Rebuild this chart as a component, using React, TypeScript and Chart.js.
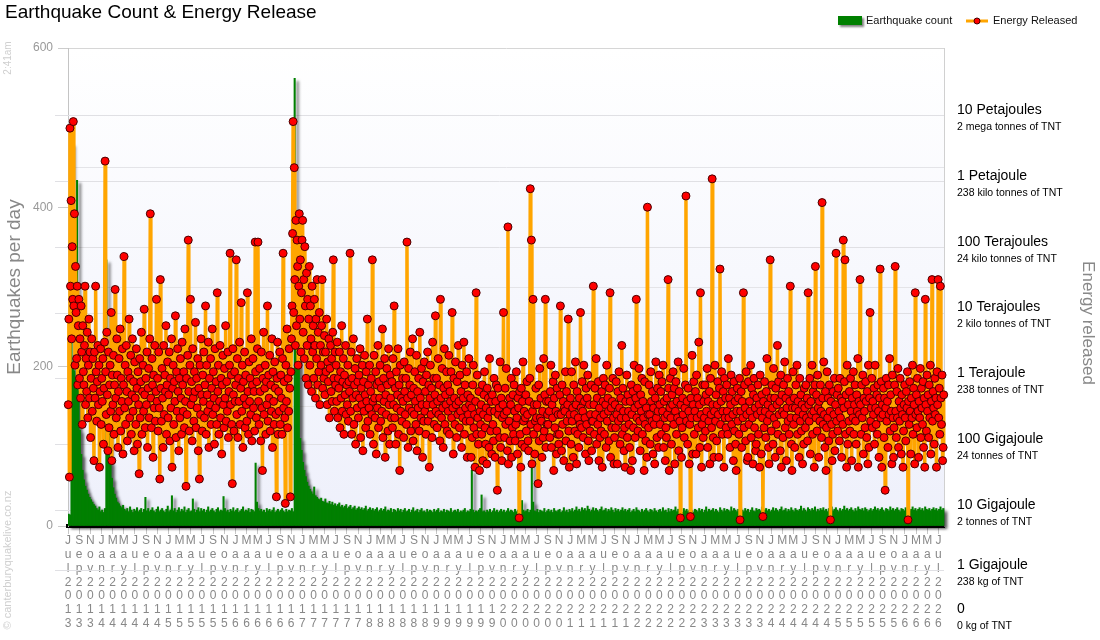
import React, { useEffect, useRef } from 'react';
import { Chart, registerables } from 'chart.js';

Chart.register(...registerables);

const FONT = '"Liberation Sans", Arial, sans-serif';

const chartTitle = 'Earthquake Count & Energy Release';
const countLabel = 'Earthquake count';
const energyLabel = 'Energy Released';
const leftAxisTitle = 'Earthquakes per day';
const rightAxisTitle = 'Energy released';
const timeStamp = '2:41am';
const credit = '© canterburyquakelive.co.nz';

// x tick labels, one every two months
const xTickLabels = [
  'Jul 2013', 'Sep 2013', 'Nov 2013',
  'Jan 2014', 'Mar 2014', 'May 2014', 'Jul 2014', 'Sep 2014', 'Nov 2014',
  'Jan 2015', 'Mar 2015', 'May 2015', 'Jul 2015', 'Sep 2015', 'Nov 2015',
  'Jan 2016', 'Mar 2016', 'May 2016', 'Jul 2016', 'Sep 2016', 'Nov 2016',
  'Jan 2017', 'Mar 2017', 'May 2017', 'Jul 2017', 'Sep 2017', 'Nov 2017',
  'Jan 2018', 'Mar 2018', 'May 2018', 'Jul 2018', 'Sep 2018', 'Nov 2018',
  'Jan 2019', 'Mar 2019', 'May 2019', 'Jul 2019', 'Sep 2019', 'Nov 2019',
  'Jan 2020', 'Mar 2020', 'May 2020', 'Jul 2020', 'Sep 2020', 'Nov 2020',
  'Jan 2021', 'Mar 2021', 'May 2021', 'Jul 2021', 'Sep 2021', 'Nov 2021',
  'Jan 2022', 'Mar 2022', 'May 2022', 'Jul 2022', 'Sep 2022', 'Nov 2022',
  'Jan 2023', 'Mar 2023', 'May 2023', 'Jul 2023', 'Sep 2023', 'Nov 2023',
  'Jan 2024', 'Mar 2024', 'May 2024', 'Jul 2024', 'Sep 2024', 'Nov 2024',
  'Jan 2025', 'Mar 2025', 'May 2025', 'Jul 2025', 'Sep 2025', 'Nov 2025',
  'Jan 2026', 'Mar 2026', 'May 2026', 'Jul 2026',
];

// left axis
const leftGridValues = [0, 150, 200, 300, 400, 450, 600];
const leftTickLabels = [0, 200, 400, 600];

// right (energy) axis labels: level index on a log scale
const energyTickPos = [7, 6, 5, 4, 3, 2, 1, 0.09, -0.58];
const energyTickNames = [
  '10 Petajoules', '1 Petajoule', '100 Terajoules', '10 Terajoules', '1 Terajoule',
  '100 Gigajoule', '10 Gigajoule', '1 Gigajoule', '0',
];
const energyTickTnt = [
  '2 mega tonnes of TNT', '238 kilo tonnes of TNT', '24 kilo tonnes of TNT', '2 kilo tonnes of TNT',
  '238 tonnes of TNT', '24 tonnes of TNT', '2 tonnes of TNT', '238 kg of TNT', '0 kg of TNT',
];

// earthquake count, one value per quarter month from Jul 2013
const weeklyQuakeCounts = [
  15, 14, 480, 200, 195, 185, 434, 170, 120, 90, 70, 58, 50, 45, 40, 36, 33, 30, 27, 25,
  22, 20, 24, 18, 20, 17, 22, 334, 140, 120, 80, 60, 48, 40, 35, 30, 28, 25, 23, 26,
  21, 19, 22, 18, 24, 20, 17, 21, 19, 23, 18, 20, 22, 17, 21, 36, 19, 22, 18, 20,
  23, 19, 17, 21, 24, 18, 20, 22, 19, 17, 21, 25, 18, 20, 38, 19, 22, 17, 20, 23,
  18, 21, 19, 24, 17, 20, 22, 18, 19, 34, 21, 17, 20, 23, 18, 22, 19, 21, 17, 20,
  24, 18, 20, 22, 19, 17, 21, 23, 18, 20, 19, 37, 22, 18, 20, 17, 21, 19, 23, 18,
  20, 22, 17, 19, 21, 24, 18, 20, 19, 22, 17, 21, 20, 18, 79, 30, 22, 19, 21, 18,
  20, 17, 22, 19, 21, 18, 20, 23, 17, 19, 21, 18, 20, 22, 19, 17, 21, 18, 20, 19,
  22, 18, 562, 290, 270, 250, 110, 95, 80, 70, 62, 55, 50, 46, 43, 40, 49, 38, 36, 34,
  33, 35, 31, 30, 34, 29, 28, 31, 27, 30, 26, 28, 25, 27, 29, 24, 26, 23, 25, 27,
  22, 24, 26, 21, 23, 25, 20, 22, 24, 21, 23, 20, 22, 25, 19, 21, 23, 20, 22, 19,
  21, 23, 18, 20, 22, 19, 21, 24, 18, 20, 19, 22, 17, 21, 20, 18, 22, 19, 21, 17,
  20, 22, 18, 19, 21, 17, 20, 23, 18, 19, 21, 17, 20, 22, 18, 19, 17, 21, 18, 20,
  19, 17, 21, 18, 20, 22, 17, 19, 18, 21, 17, 20, 19, 18, 22, 17, 19, 20, 18, 21,
  17, 19, 18, 20, 22, 17, 19, 18, 21, 70, 20, 17, 19, 18, 20, 22, 39, 18, 19, 17,
  20, 18, 21, 17, 19, 22, 18, 20, 17, 19, 21, 18, 20, 17, 19, 22, 18, 20, 19, 17,
  21, 18, 20, 19, 17, 32, 20, 18, 19, 21, 17, 20, 115, 30, 19, 18, 21, 17, 20, 19,
  18, 22, 17, 19, 21, 18, 20, 17, 22, 19, 18, 20, 21, 17, 19, 23, 18, 20, 17, 21,
  19, 22, 18, 20, 24, 19, 21, 18, 23, 20, 22, 19, 25, 21, 18, 20, 23, 19, 22, 20,
  18, 21, 24, 19, 20, 22, 18, 21, 19, 23, 20, 17, 22, 19, 21, 18, 20, 23, 19, 21,
  18, 20, 22, 17, 19, 21, 18, 23, 20, 19, 17, 21, 18, 20, 22, 19, 17, 21, 20, 18,
  22, 19, 17, 20, 21, 18, 23, 19, 20, 17, 22, 18, 21, 19, 20, 24, 18, 21, 19, 20,
  17, 22, 19, 21, 18, 20, 23, 19, 17, 21, 20, 18, 22, 19, 21, 17, 20, 24, 18, 21,
  19, 20, 22, 18, 21, 19, 17, 23, 20, 18, 22, 19, 21, 20, 18, 24, 19, 22, 20, 18,
  21, 19, 23, 20, 18, 22, 19, 21, 17, 20, 23, 19, 18, 22, 20, 21, 19, 24, 18, 20,
  22, 19, 21, 18, 20, 23, 19, 22, 20, 18, 21, 24, 19, 20, 22, 18, 21, 19, 23, 20,
  18, 22, 20, 19, 21, 25, 19, 22, 20, 18, 23, 21, 19, 22, 20, 24, 18, 21, 19, 22,
  20, 23, 19, 21, 18, 22, 20, 24, 19, 21, 23, 20, 18, 22, 19, 21, 25, 20, 22, 19,
  21, 23, 20, 18, 22, 19, 24, 21, 20, 22, 19, 23, 21, 18, 20, 22, 19, 21, 24, 20,
  22, 19, 21, 23, 20, 18, 22, 21, 19, 24, 20, 22, 19, 21, 23, 20, 18, 22, 21, 19,
  23, 20, 22, 19, 21, 24, 20, 22, 19, 21, 23, 20, 22, 19, 24, 21, 20, 22, 19, 21,
  23, 20, 22, 19, 21, 24, 20, 22,
];

// energy released: level index x100 on the right axis, ten readings per month from Jul 2013
const energyLevelHundredths = [
  260, 390, 150, 680, 440, 570, 360, 500, 420, 690, 410, 550, 320, 470, 400, 330, 440, 290, 380, 420,
  300, 360, 270, 410, 340, 230, 380, 310, 290, 350, 440, 260, 330, 280, 370, 240, 320, 390, 270, 340,
  210, 300, 360, 250, 330, 285, 175, 340, 270, 440, 310, 235, 295, 350, 260, 320, 165, 280, 345, 230,
  300, 265, 330, 200, 285, 355, 630, 310, 245, 370, 275, 190, 340, 225, 290, 320, 250, 400, 175, 305,
  260, 335, 215, 290, 435, 270, 240, 360, 305, 195, 280, 330, 250, 375, 220, 300, 265, 345, 185, 290,
  485, 255, 320, 230, 350, 280, 205, 310, 265, 390, 240, 300, 335, 215, 275, 360, 250, 295, 190, 325,
  270, 230, 345, 285, 200, 310, 260, 155, 330, 240, 295, 370, 215, 280, 320, 250, 405, 275, 225, 300,
  260, 340, 195, 285, 315, 240, 360, 550, 270, 225, 330, 290, 180, 305, 255, 350, 235, 280, 420, 265,
  300, 220, 340, 255, 147, 450, 285, 235, 315, 270, 195, 350, 245, 305, 280, 380, 215, 290, 325, 240,
  275, 340, 205, 300, 255, 360, 165, 285, 320, 230, 295, 265, 395, 210, 310, 250, 345, 280, 190, 300,
  240, 330, 270, 215, 355, 290, 250, 310, 225, 375, 265, 136, 300, 245, 335, 510, 280, 220, 320, 420,
  260, 295, 205, 345, 270, 235, 310, 280, 385, 225, 300, 255, 330, 190, 285, 147, 320, 245, 360, 275,
  220, 305, 265, 340, 240, 290, 410, 215, 320, 275, 250, 355, 195, 300, 260, 330, 230, 285, 375, 245,
  310, 270, 200, 345, 255, 295, 230, 430, 280, 320, 215, 265, 350, 240, 300, 185, 290, 335, 260, 225,
  315, 270, 380, 235, 295, 250, 340, 210, 280, 320, 490, 260, 305, 230, 140, 345, 275, 220, 310, 265,
  290, 480, 245, 330, 210, 300, 265, 355, 230, 285, 415, 250, 320, 195, 295, 270, 340, 225, 305, 260,
  235, 430, 280, 215, 325, 265, 300, 245, 360, 205, 290, 330, 255, 280, 220, 507, 310, 240, 295, 345,
  507, 265, 230, 315, 280, 205, 340, 255, 160, 300, 370, 245, 285, 320, 215, 295, 260, 410, 235, 305,
  270, 335, 220, 290, 250, 360, 195, 310, 265, 230, 325, 285, 245, 120, 300, 355, 215, 280, 250, 340,
  230, 305, 270, 215, 330, 490, 255, 295, 240, 110, 320, 265, 375, 225, 300, 250, 345, 285, 120, 310,
  360, 410, 520, 690, 400, 620, 450, 350, 540, 380, 510, 470, 320, 440, 550, 390, 480, 340, 430, 510,
  540, 370, 450, 330, 500, 410, 300, 460, 350, 420, 290, 390, 470, 320, 410, 360, 280, 440, 340, 380,
  300, 420, 350, 270, 390, 330, 450, 290, 370, 310, 400, 260, 350, 320, 380, 450, 285, 340, 300, 365,
  275, 340, 310, 390, 260, 325, 295, 360, 240, 315, 350, 280, 330, 265, 370, 480, 300, 250, 340, 290,
  320, 265, 355, 240, 300, 285, 340, 225, 310, 270, 380, 250, 295, 330, 215, 305, 275, 350, 245, 290,
  260, 320, 235, 295, 280, 490, 250, 340, 215, 300, 270, 360, 230, 290, 315, 200, 275, 330, 255, 295,
  240, 305, 270, 345, 210, 285, 260, 320, 190, 295, 250, 335, 275, 225, 310, 265, 390, 235, 290, 255,
  320, 215, 280, 300, 245, 480, 265, 200, 335, 270, 240, 310, 185, 290, 255, 350, 225, 295, 270, 320,
  235, 285, 250, 375, 210, 300, 265, 330, 180, 275, 245, 315, 290, 220, 345, 260, 200, 305, 270, 240,
  295, 225, 330, 260, 410, 240, 285, 200, 310, 255, 275, 345, 215, 290, 160, 320, 250, 270, 235, 300,
  265, 210, 325, 280, 245, 300, 230, 507, 270, 195, 315, 255, 290, 340, 220, 275, 250, 360, 205, 285,
  245, 310, 265, 230, 335, 190, 280, 255, 300, 220, 370, 270, 240, 315, 260, 180, 295, 235, 325, 250,
  280, 215, 305, 260, 340, 235, 290, 165, 270, 320, 245, 285, 210, 355, 260, 300, 230, 275, 395, 250,
  300, 225, 265, 330, 245, 290, 205, 420, 270, 240, 315, 255, 195, 285, 345, 230, 275, 260, 310, 220,
  290, 250, 335, 215, 280, 265, 310, 240, 400, 255, 185, 300, 270, 230, 325, 260, 210, 295, 245, 350,
  265, 225, 305, 250, 280, 195, 320, 240, 270, 355, 215, 290, 255, 235, 310, 180, 275, 245, 330, 260,
  235, 270, 180, 255, 210, 290, 320, 225, 245, 165, 265, 430, 215, 305, 240, 200, 280, 160, 250, 230,
  260, 215, 290, 175, 245, 275, 310, 225, 200, 255, 170, 285, 240, 270, 195, 330, 250, 220, 265, 185,
  275, 230, 205, 300, 250, 180, 265, 290, 220, 130, 285, 245, 255, 210, 325, 195, 270, 175, 240, 260,
  400, 245, 210, 285, 230, 315, 250, 190, 530, 170, 235, 270, 205, 260, 300, 180, 225, 275, 215, 290,
  250, 205, 230, 310, 240, 185, 270, 255, 88, 280, 215, 165, 285, 200, 265, 325, 235, 250, 195, 240,
  275, 220, 295, 245, 205, 190, 265, 300, 588, 230, 510, 170, 250, 420, 215, 260, 185, 235, 285, 240,
  260, 225, 140, 290, 205, 315, 240, 270, 235, 180, 250, 210, 330, 220, 275, 420, 195, 265, 230, 245,
  230, 265, 250, 210, 280, 320, 195, 260, 240, 295, 160, 270, 225, 305, 250, 185, 285, 215, 245, 200,
  215, 275, 410, 245, 190, 290, 230, 265, 175, 255, 250, 310, 205, 280, 235, 260, 390, 220, 165, 245,
  270, 200, 310, 235, 255, 180, 290, 245, 220, 325, 260, 170, 280, 215, 240, 195, 270, 230, 400, 255,
  225, 295, 250, 210, 320, 265, 240, 185, 285, 230, 270, 305, 205, 175, 260, 220, 245, 290, 190, 235,
  235, 440, 260, 215, 285, 245, 330, 200, 270, 230, 295, 175, 255, 210, 240, 220, 280, 165, 265, 300,
  245, 215, 290, 260, 195, 320, 235, 270, 250, 205, 285, 430, 180, 255, 225, 265, 300, 240, 170, 210,
  260, 225, 295, 245, 170, 280, 235, 310, 255, 200, 270, 240, 350, 215, 285, 250, 190, 225, 165, 265,
  240, 305, 210, 275, 250, 230, 195, 265, 160, 290, 245, 175, 280, 225, 320, 255, 210, 270, 420, 240,
  285, 220, 260, 315, 235, 190, 275, 250, 300, 215, 265, 240, 160, 295, 230, 205, 255, 180, 560, 245,
  225, 290, 245, 200, 310, 265, 235, 280, 185, 255, 230, 170, 270, 325, 240, 210, 285, 250, 195, 305,
  260, 230, 280, 215, 295, 250, 320, 195, 265, 240, 175, 225, 210, 270, 245, 450, 285, 160, 255, 300,
  240, 200, 275, 260, 310, 230, 285, 170, 250, 295, 215, 265, 240, 325, 190, 280, 235, 88, 260, 180,
  225, 270, 245, 315, 210, 255, 290, 577, 235, 265, 200, 285, 250, 170, 230, 90, 270, 240, 335, 185,
  260, 295, 215, 250, 280, 185, 305, 240, 270, 225, 355, 260, 195, 430, 245, 165, 230, 290, 210, 265,
  240, 290, 220, 275, 250, 315, 195, 265, 235, 280, 170, 300, 245, 225, 603, 260, 210, 180, 250, 320,
  235, 275, 205, 260, 295, 245, 180, 285, 466, 230, 265, 310, 215, 250, 280, 165, 300, 240, 270, 225,
  290, 250, 215, 330, 240, 270, 195, 260, 305, 230, 280, 245, 175, 295, 220, 265, 200, 160, 250, 285,
  235, 270, 215, 300, 85, 250, 280, 195, 265, 240, 430, 225, 290, 255, 205, 310, 245, 175, 180, 295,
  230, 265, 250, 320, 210, 285, 240, 170, 275, 300, 225, 255, 190, 200, 270, 245, 290, 215, 260, 165,
  305, 250, 185, 275, 240, 90, 265, 225, 295, 250, 210, 280, 330, 235, 260, 195, 170, 245, 480, 270,
  220, 290, 255, 200, 315, 240, 270, 180, 285, 230, 260, 350, 215, 295, 245, 265, 190, 305, 165, 275,
  250, 210, 290, 245, 325, 225, 270, 175, 255, 300, 235, 280, 215, 265, 440, 240, 200, 160, 255, 310,
  230, 270, 195, 255, 290, 240, 320, 215, 265, 250, 180, 300, 235, 275, 220, 260, 170, 245, 200, 285,
  255, 225, 290, 240, 270, 205, 430, 260, 235, 300, 185, 265, 245, 320, 215, 280, 250, 165, 290, 470,
  240, 275, 220, 305, 255, 180, 265, 235, 290, 250, 210, 567, 270, 230, 325, 245, 195, 280, 160, 225,
  310, 240, 270, 205, 290, 250, 85, 265, 230, 175, 215, 280, 245, 300, 190, 260, 490, 235, 275, 220,
  285, 250, 205, 300, 240, 270, 180, 265, 230, 510, 255, 295, 480, 215, 275, 165, 320, 200, 260, 235,
  280, 220, 300, 250, 175, 270, 240, 310, 215, 260, 290, 235, 200, 275, 250, 330, 165, 265, 245, 450,
  260, 215, 290, 240, 305, 185, 270, 250, 225, 295, 265, 210, 280, 170, 320, 195, 270, 400, 235, 255,
  300, 225, 265, 245, 285, 200, 320, 255, 230, 275, 215, 290, 250, 180, 270, 466, 240, 295, 165, 260,
  245, 285, 210, 270, 130, 255, 300, 235, 265, 195, 290, 245, 330, 220, 275, 250, 170, 305, 240, 180,
  225, 290, 470, 250, 210, 280, 240, 315, 195, 265, 235, 300, 255, 185, 275, 245, 165, 220, 260, 290,
  240, 205, 280, 255, 310, 85, 265, 230, 295, 250, 185, 270, 240, 320, 215, 285, 260, 170, 430, 245,
  275, 225, 300, 250, 180, 265, 240, 315, 210, 285, 255, 230, 295, 195, 270, 165, 420, 260, 220, 305,
  250, 275, 210, 290, 240, 320, 185, 265, 450, 235, 280, 255, 200, 300, 245, 270, 165, 310, 260, 450,
  240, 285, 215, 440, 270, 230, 305, 175, 195, 275,
];

const barShadowPlugin = {
  id: 'barShadow',
  beforeDatasetDraw(chart: any, args: any) {
    if (args.index !== 0) return;
    const c = chart.ctx;
    c.save();
    c.shadowColor = 'rgba(0,0,0,0.6)';
    c.shadowBlur = 3;
    c.shadowOffsetX = 3;
    c.shadowOffsetY = 3;
  },
  afterDatasetDraw(chart: any, args: any) {
    if (args.index !== 0) return;
    chart.ctx.restore();
  },
};

const decorPlugin = {
  id: 'decor',
  beforeDraw(chart: any) {
    const { ctx, chartArea: a } = chart;
    ctx.save();
    const g = ctx.createLinearGradient(0, a.top, 0, a.bottom);
    g.addColorStop(0, '#ffffff');
    g.addColorStop(1, '#eef0fb');
    ctx.fillStyle = g;
    ctx.fillRect(a.left, a.top, a.right - a.left, a.bottom - a.top);
    ctx.restore();
  },
  beforeDatasetsDraw(chart: any) {
    const { ctx, chartArea: a, scales } = chart;
    const y1 = scales.y1;
    ctx.save();
    ctx.strokeStyle = '#e0e0e4';
    ctx.lineWidth = 1;
    energyTickPos.forEach((v, i) => {
      if (i === energyTickPos.length - 1) return;
      const py = Math.round(y1.getPixelForValue(v)) + 0.5;
      ctx.beginPath();
      ctx.moveTo(55, py);
      ctx.lineTo(a.right, py);
      ctx.stroke();
    });
    ctx.restore();
  },
  afterDraw(chart: any) {
    const { ctx, scales } = chart;
    const y1 = scales.y1;
    ctx.save();
    ctx.textBaseline = 'middle';
    ctx.textAlign = 'left';
    // title
    ctx.fillStyle = '#000';
    ctx.font = `19px ${FONT}`;
    ctx.fillText(chartTitle, 5, 13);
    // legend
    ctx.save();
    ctx.shadowColor = 'rgba(0,0,0,0.5)';
    ctx.shadowBlur = 2;
    ctx.shadowOffsetX = 2;
    ctx.shadowOffsetY = 2;
    ctx.fillStyle = '#008000';
    ctx.fillRect(838, 16, 24, 9);
    ctx.restore();
    ctx.font = `11px ${FONT}`;
    ctx.fillStyle = '#111';
    ctx.fillText(countLabel, 866, 21);
    ctx.strokeStyle = '#ffa500';
    ctx.lineWidth = 3;
    ctx.beginPath();
    ctx.moveTo(966, 21);
    ctx.lineTo(988, 21);
    ctx.stroke();
    ctx.beginPath();
    ctx.arc(977, 21, 3, 0, Math.PI * 2);
    ctx.fillStyle = '#ff0000';
    ctx.fill();
    ctx.lineWidth = 1;
    ctx.strokeStyle = '#400';
    ctx.stroke();
    ctx.fillStyle = '#111';
    ctx.fillText(energyLabel, 993, 21);
    // axis titles
    ctx.fillStyle = '#888';
    ctx.textAlign = 'center';
    ctx.save();
    ctx.translate(15, 287);
    ctx.rotate(-Math.PI / 2);
    ctx.font = `19px ${FONT}`;
    ctx.fillText(leftAxisTitle, 0, 0);
    ctx.restore();
    ctx.save();
    ctx.translate(1088, 323);
    ctx.rotate(Math.PI / 2);
    ctx.font = `17px ${FONT}`;
    ctx.fillText(rightAxisTitle, 0, 0);
    ctx.restore();
    // watermarks
    ctx.fillStyle = '#cfcfcf';
    ctx.save();
    ctx.translate(8, 58);
    ctx.rotate(-Math.PI / 2);
    ctx.font = `10px ${FONT}`;
    ctx.fillText(timeStamp, 0, 0);
    ctx.restore();
    ctx.save();
    ctx.translate(8, 560);
    ctx.rotate(-Math.PI / 2);
    ctx.font = `11px ${FONT}`;
    ctx.fillText(credit, 0, 0);
    ctx.restore();
    // right energy labels
    ctx.textAlign = 'left';
    ctx.fillStyle = '#000';
    energyTickPos.forEach((v, i) => {
      const py = y1.getPixelForValue(v);
      ctx.font = `14px ${FONT}`;
      ctx.fillText(energyTickNames[i], 957, py - 5);
      ctx.font = `10.5px ${FONT}`;
      ctx.fillText(energyTickTnt[i], 957, py + 12);
    });
    ctx.restore();
  },
};

export default function App() {
  const canvasRef = useRef<HTMLCanvasElement | null>(null);

  useEffect(() => {
    document.body.style.margin = '0';
    const canvas = canvasRef.current;
    if (!canvas) return;
    Chart.defaults.font.family = FONT;

    const countData = weeklyQuakeCounts.map((c, w) => ({ x: (w + 0.5) / 4, y: c }));
    const energyData = energyLevelHundredths.map((t, i) => ({ x: (i + 0.5) / 10, y: t / 100 }));

    const chart = new Chart(canvas, {
      type: 'bar',
      data: {
        datasets: [
          {
            type: 'bar',
            label: countLabel,
            data: countData as any,
            yAxisID: 'y',
            backgroundColor: '#008000',
            borderWidth: 0,
            barPercentage: 1,
            categoryPercentage: 1,
            order: 2,
            clip: { left: 0, top: 0, right: 8, bottom: 8 } as any,
          },
          {
            type: 'line',
            label: energyLabel,
            data: energyData as any,
            yAxisID: 'y1',
            borderColor: '#ffa500',
            borderWidth: 3.5,
            pointRadius: 4,
            pointBackgroundColor: '#ff0000',
            pointBorderColor: '#4a0000',
            pointBorderWidth: 1,
            tension: 0,
            order: 1,
            clip: 6 as any,
          },
        ] as any,
      },
      options: {
        animation: false,
        responsive: false,
        events: [],
        layout: { padding: { top: 48, left: 0, right: 0, bottom: 0 } },
        plugins: {
          legend: { display: false },
          title: { display: false },
          tooltip: { enabled: false },
        },
        scales: {
          x: {
            type: 'linear',
            min: 0,
            max: 157,
            offset: false,
            afterBuildTicks: (s: any) => {
              s.ticks = xTickLabels.map((_, i) => ({ value: i * 2 }));
            },
            afterFit: (s: any) => {
              s.height = 114;
            },
            grid: { drawOnChartArea: false, offset: false, tickLength: 8, color: '#c8c8c8' },
            border: { color: '#000', width: 4 },
            ticks: {
              autoSkip: false,
              maxRotation: 0,
              minRotation: 0,
              padding: 0,
              color: '#888',
              font: { size: 12, lineHeight: 1.15 },
              callback: (_v: any, i: number) => (xTickLabels[i] || '').replace(' ', '').split(''),
            },
          },
          y: {
            type: 'linear',
            position: 'left',
            min: 0,
            max: 600,
            afterBuildTicks: (s: any) => {
              s.ticks = leftGridValues.map((v) => ({ value: v }));
            },
            afterFit: (s: any) => {
              s.width = 68;
            },
            ticks: {
              color: '#999',
              padding: 5,
              font: { size: 12 },
              callback: (v: any) => (leftTickLabels.includes(v) ? String(v) : ''),
            },
            grid: {
              tickLength: 10,
              color: (c: any) => {
                const v = c.tick && c.tick.value;
                if (v === 150 || v === 300 || v === 450) return '#e4e4e8';
                if (v === 600) return '#d6d6d6';
                return 'rgba(0,0,0,0)';
              },
              tickColor: (c: any) => {
                const v = c.tick && c.tick.value;
                return leftTickLabels.includes(v) ? '#cccccc' : 'rgba(0,0,0,0)';
              },
            },
            border: { color: '#c4c4c4' },
          },
          y1: {
            type: 'linear',
            position: 'right',
            min: 0.757,
            max: 8.018,
            afterFit: (s: any) => {
              s.width = 156;
            },
            grid: { display: false, drawOnChartArea: false },
            ticks: { display: false },
            border: { display: true, color: '#d0d0d0' },
          },
        },
      } as any,
      plugins: [barShadowPlugin, decorPlugin] as any,
    });

    return () => {
      chart.destroy();
    };
  }, []);

  return (
    <div style={{ width: 1100, height: 640, position: 'relative', background: '#fff' }}>
      <canvas ref={canvasRef} width={1100} height={640} style={{ display: 'block' }} />
    </div>
  );
}
